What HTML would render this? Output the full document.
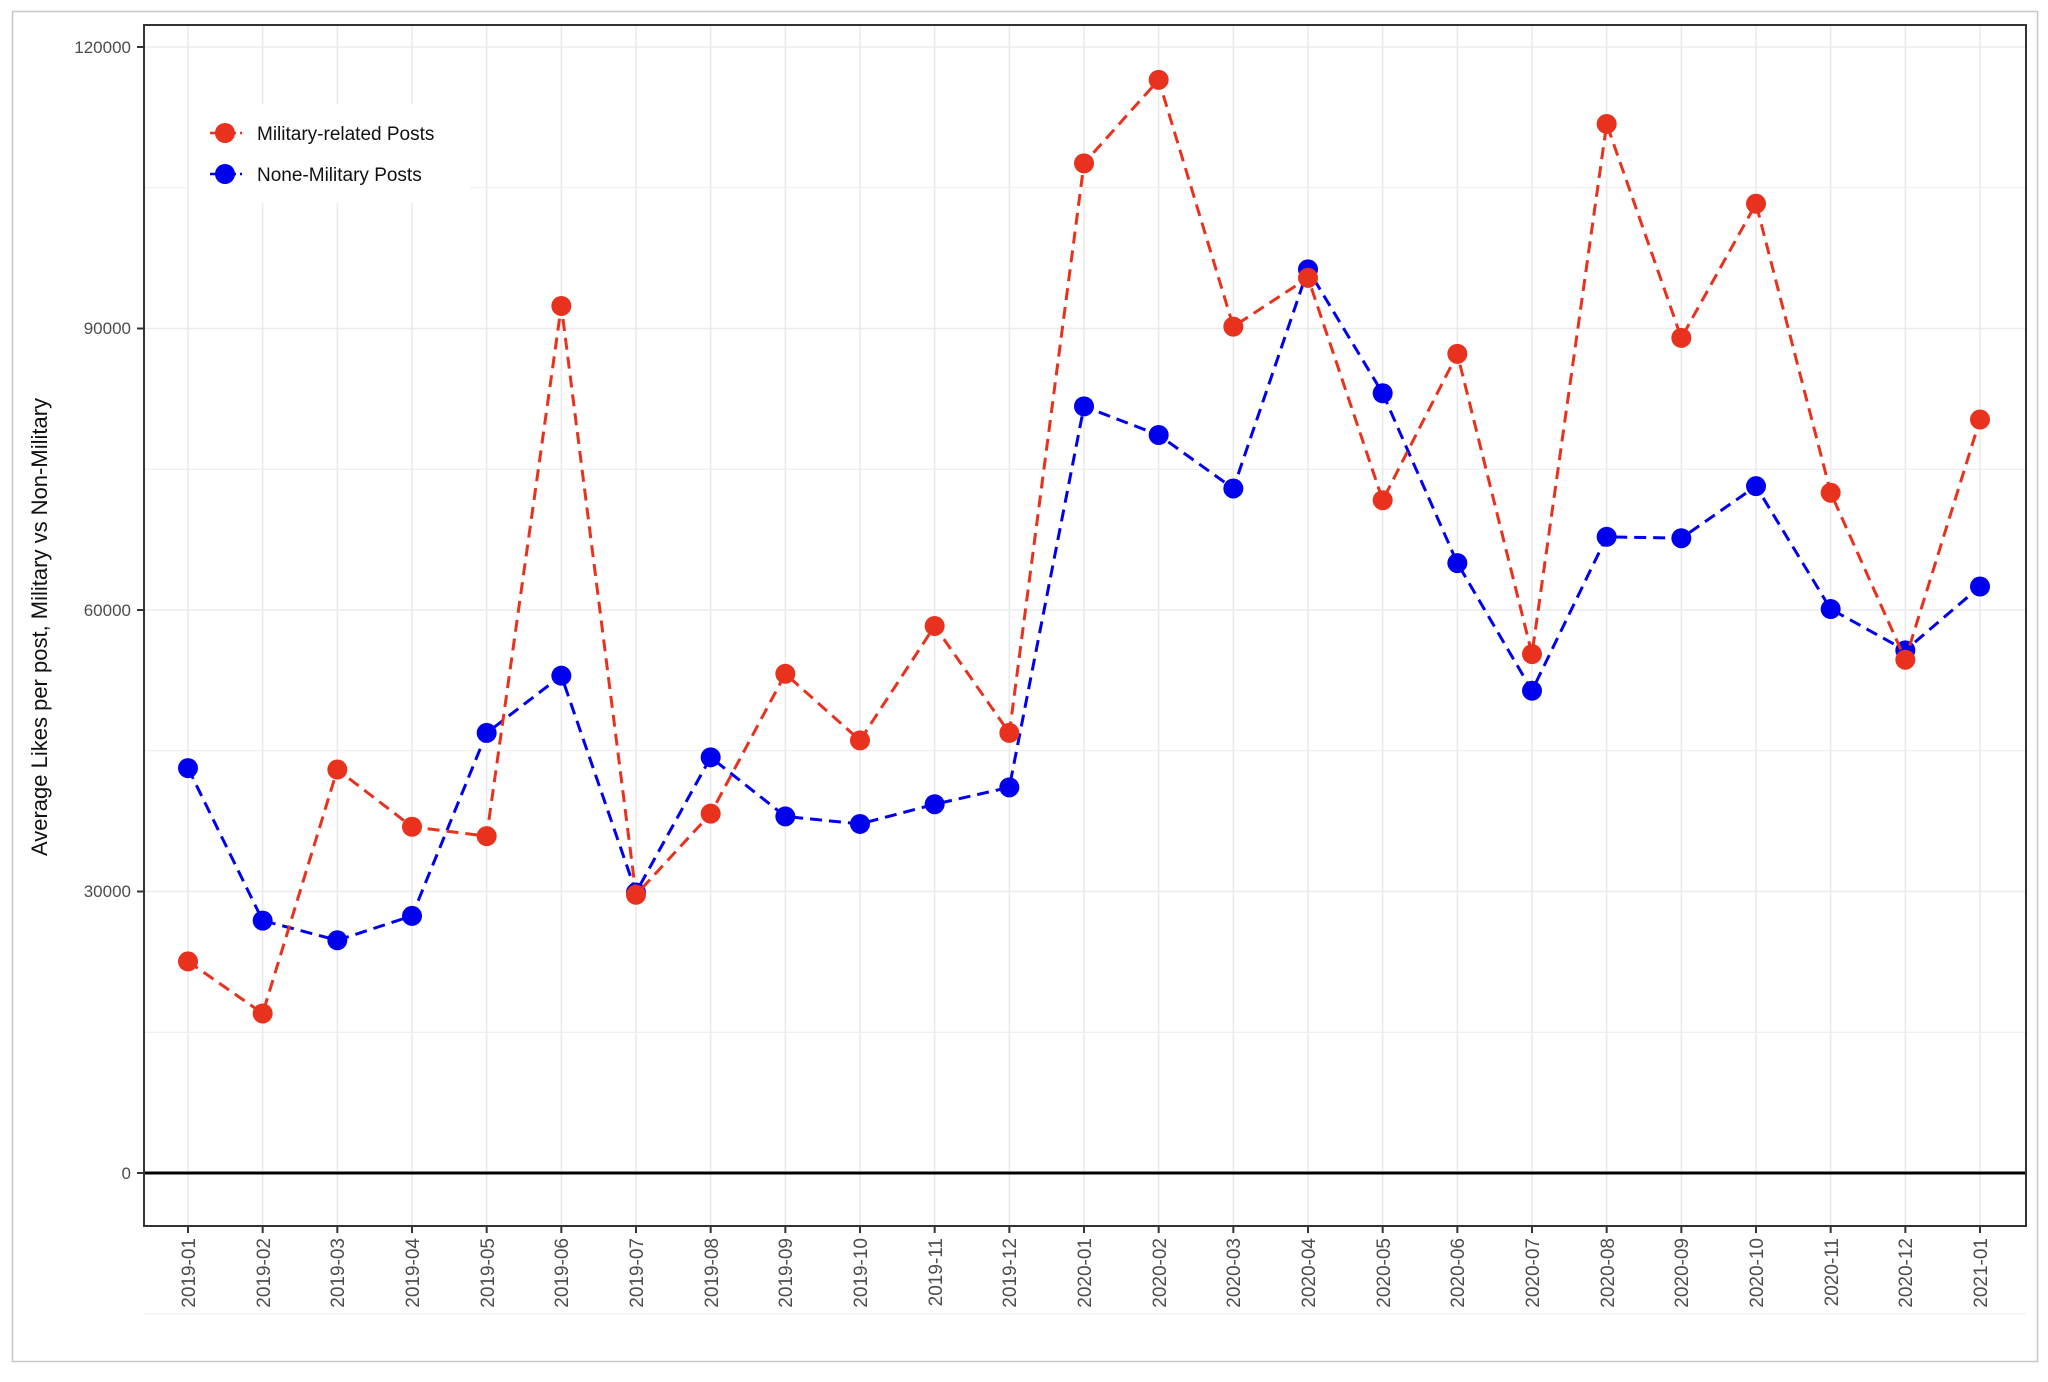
<!DOCTYPE html>
<html><head><meta charset="utf-8"><style>
html,body{margin:0;padding:0;background:#fff;width:2048px;height:1382px;overflow:hidden}
svg{display:block;font-family:"Liberation Sans",Arial,sans-serif}
</style></head><body>
<svg id="s" width="2048" height="1382" viewBox="0 0 2048 1382" xmlns="http://www.w3.org/2000/svg">
<rect x="12.5" y="11.5" width="2025" height="1350" fill="#fff" stroke="#c8c8c8" stroke-width="1.5"/>
<g id="grid"></g>
<line x1="144" y1="1173" x2="2026" y2="1173" stroke="#000" stroke-width="3"/>
<rect x="144" y="25" width="1882" height="1201" fill="none" stroke="#333" stroke-width="2"/>
<g id="ticks" stroke="#333" stroke-width="2"></g>
<g id="series"></g>
<g font-size="17" fill="#4d4d4d" text-anchor="end">
<text x="131" y="53">120000</text>
<text x="131" y="334">90000</text>
<text x="131" y="616">60000</text>
<text x="131" y="897">30000</text>
<text x="131" y="1179">0</text>
</g>
<text transform="translate(47,627) rotate(-90)" font-size="22" fill="#111" text-anchor="middle">Average Likes per post, Military vs Non-Military</text>
<g font-size="19" fill="#4d4d4d" text-anchor="end" id="xl">
<text transform="translate(195,1238) rotate(-90)">2019-01</text>
<text transform="translate(270,1238) rotate(-90)">2019-02</text>
<text transform="translate(344,1238) rotate(-90)">2019-03</text>
<text transform="translate(419,1238) rotate(-90)">2019-04</text>
<text transform="translate(494,1238) rotate(-90)">2019-05</text>
<text transform="translate(568,1238) rotate(-90)">2019-06</text>
<text transform="translate(643,1238) rotate(-90)">2019-07</text>
<text transform="translate(718,1238) rotate(-90)">2019-08</text>
<text transform="translate(792,1238) rotate(-90)">2019-09</text>
<text transform="translate(867,1238) rotate(-90)">2019-10</text>
<text transform="translate(942,1238) rotate(-90)">2019-11</text>
<text transform="translate(1016,1238) rotate(-90)">2019-12</text>
<text transform="translate(1091,1238) rotate(-90)">2020-01</text>
<text transform="translate(1166,1238) rotate(-90)">2020-02</text>
<text transform="translate(1240,1238) rotate(-90)">2020-03</text>
<text transform="translate(1315,1238) rotate(-90)">2020-04</text>
<text transform="translate(1390,1238) rotate(-90)">2020-05</text>
<text transform="translate(1464,1238) rotate(-90)">2020-06</text>
<text transform="translate(1539,1238) rotate(-90)">2020-07</text>
<text transform="translate(1614,1238) rotate(-90)">2020-08</text>
<text transform="translate(1688,1238) rotate(-90)">2020-09</text>
<text transform="translate(1763,1238) rotate(-90)">2020-10</text>
<text transform="translate(1838,1238) rotate(-90)">2020-11</text>
<text transform="translate(1912,1238) rotate(-90)">2020-12</text>
<text transform="translate(1987,1238) rotate(-90)">2021-01</text>
</g>
<rect x="189" y="104" width="281" height="99" fill="#fff"/>
<line x1="210" y1="133" x2="242" y2="133" stroke="#e8321e" stroke-width="2.5" stroke-dasharray="6,4"/>
<circle cx="225" cy="133" r="10" fill="#e8321e"/>
<line x1="210" y1="174" x2="242" y2="174" stroke="#0000ee" stroke-width="2.5" stroke-dasharray="6,4"/>
<circle cx="225" cy="174" r="10" fill="#0000ee"/>
<text x="257" y="140" font-size="19" fill="#111">Military-related Posts</text>
<text x="257" y="181" font-size="19" fill="#111">None-Military Posts</text>
</svg>
<script>
const ns="http://www.w3.org/2000/svg";
function el(p,t,a){const e=document.createElementNS(ns,t);for(const k in a)e.setAttribute(k,a[k]);p.appendChild(e);return e;}
const X=i=>188+i*74.667, Y=v=>1173-v*(1126/120000);
const g=document.getElementById('grid'),tk=document.getElementById('ticks'),s=document.getElementById('series');
for(let v=-15000;v<=120000;v+=15000){const y=Y(v);if(y<26)continue;el(g,'line',{x1:144,x2:2026,y1:y,y2:y,stroke:'#ebebeb','stroke-width':v%30000?1:1.6});}
for(let v=0;v<=120000;v+=30000)el(tk,'line',{x1:137,x2:144,y1:Y(v),y2:Y(v)});
for(let i=0;i<25;i++){el(g,'line',{x1:X(i),x2:X(i),y1:25,y2:1226,stroke:'#ebebeb','stroke-width':1.6});el(tk,'line',{x1:X(i),x2:X(i),y1:1226,y2:1233});}
const red=[22550,17000,43000,36900,35900,92400,29650,38300,53200,46100,58300,46900,107600,116500,90200,95400,71700,87300,55300,111800,89000,103300,72500,54700,80300];
const blue=[43150,26900,24800,27400,46900,53000,29900,44300,38000,37200,39300,41100,81700,78650,72950,96300,83100,65000,51400,67800,67650,73200,60100,55700,62500];
function draw(d,c){el(s,'polyline',{points:d.map((v,i)=>X(i)+','+Y(v)).join(' '),fill:'none',stroke:c,'stroke-width':3,'stroke-dasharray':'12,7'});d.forEach((v,i)=>el(s,'circle',{cx:X(i),cy:Y(v),r:10,fill:c}));}
draw(blue,'#0000ee');draw(red,'#e8321e');
</script>
</body></html>
